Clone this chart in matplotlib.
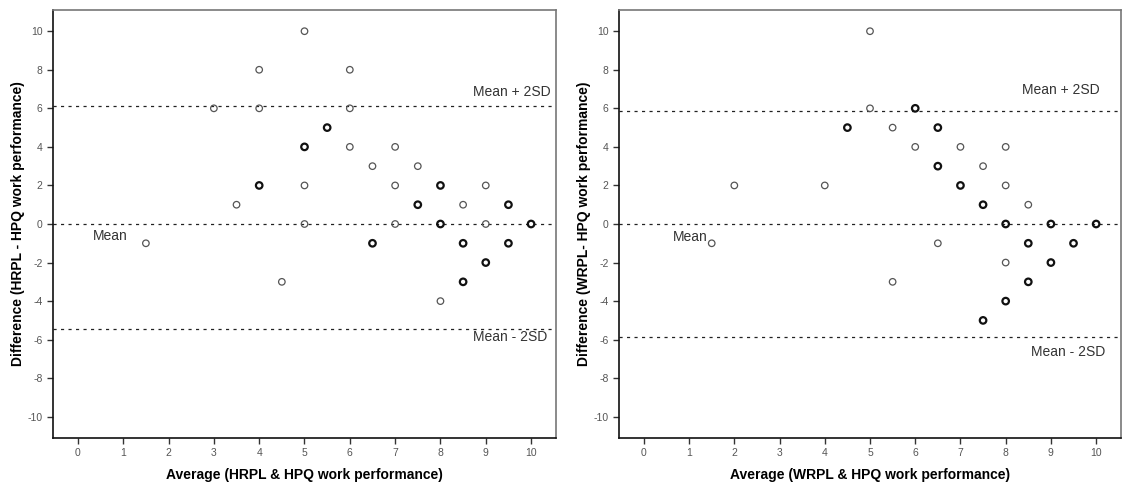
import matplotlib
matplotlib.use("Agg")
import matplotlib.pyplot as plt

plt.rcParams['font.family'] = ['Liberation Sans', 'DejaVu Sans']
plt.rcParams['axes.unicode_minus'] = False

# HRPL vs HPQ (left panel)
hrpl_avg = [1.5, 3, 3.5, 4, 4, 4.5, 5, 5, 5, 6, 6, 6, 6.5, 7, 7, 7, 7.5, 8, 8.5, 9, 9]
hrpl_diff = [-1, 6, 1, 8, 6, -3, 10, 2, 0, 8, 6, 4, 3, 4, 2, 0, 3, -4, 1, 2, 0]
# points that are drawn heavier (overlapping cases)
hrpl_avg_bold = [4, 5, 5.5, 6.5, 7.5, 8, 8, 8.5, 8.5, 9, 9.5, 9.5, 10]
hrpl_diff_bold = [2, 4, 5, -1, 1, 2, 0, -1, -3, -2, 1, -1, 0]
hrpl_mean = 0.0
hrpl_upper = 6.13
hrpl_lower = -5.44

# WRPL vs HPQ (right panel)
wrpl_avg = [1.5, 2, 4, 5, 5, 5.5, 5.5, 6, 6.5, 7, 7.5, 8, 8, 8, 8.5]
wrpl_diff = [-1, 2, 2, 10, 6, 5, -3, 4, -1, 4, 3, 4, 2, -2, 1]
wrpl_avg_bold = [4.5, 6, 6.5, 6.5, 7, 7.5, 7.5, 8, 8, 8.5, 8.5, 9, 9, 9.5, 10]
wrpl_diff_bold = [5, 6, 5, 3, 2, 1, -5, 0, -4, -1, -3, 0, -2, -1, 0]
wrpl_mean = 0.0
wrpl_upper = 5.85
wrpl_lower = -5.84

fig = plt.figure(figsize=(11.24, 4.86), dpi=100)
ax1 = fig.add_axes([53 / 1124, 48 / 486, 503 / 1124, 428 / 486])
ax2 = fig.add_axes([619 / 1124, 48 / 486, 502 / 1124, 428 / 486])


def draw_panel(ax, avg, diff, avg_b, diff_b, mean, upper, lower, xlab, ylab,
               mean_xy, up_xy, low_xy):
    ax.scatter(avg, diff, s=22, facecolors='none', edgecolors='#555555', linewidths=0.9, zorder=3)
    ax.scatter(avg_b, diff_b, s=22, facecolors='none', edgecolors='#111111', linewidths=1.6, zorder=3)
    for v in (mean, upper, lower):
        ax.axhline(v, color='#222222', lw=0.9, ls=(0, (2.5, 3.5)), zorder=1)
    ax.text(mean_xy[0], mean_xy[1], 'Mean', fontsize=10, color='#333333', ha='left', va='center')
    ax.text(up_xy[0], up_xy[1], 'Mean + 2SD', fontsize=10, color='#333333', ha='left', va='center')
    ax.text(low_xy[0], low_xy[1], 'Mean - 2SD', fontsize=10, color='#333333', ha='left', va='center')
    ax.set_xlim(-0.55, 10.55)
    ax.set_ylim(-11.1, 11.1)
    ax.set_xticks(range(0, 11))
    ax.set_yticks(range(-10, 11, 2))
    ax.tick_params(direction='out', length=4, width=1, labelsize=7.5, labelcolor='#555555', color='#333333')
    ax.spines['left'].set_color('#111111')
    ax.spines['bottom'].set_color('#111111')
    ax.spines['top'].set_color('#777777')
    ax.spines['right'].set_color('#777777')
    for s in ax.spines.values():
        s.set_linewidth(1.2)
    ax.set_xlabel(xlab, fontsize=10, fontweight='bold')
    ax.set_ylabel(ylab, fontsize=10, fontweight='bold')
    ax.xaxis.set_label_coords(0.5, -0.086)
    ax.xaxis.label.set_va('center')
    ax.yaxis.set_label_coords(-0.07, 0.5)
    ax.yaxis.label.set_va('center')


draw_panel(ax1, hrpl_avg, hrpl_diff, hrpl_avg_bold, hrpl_diff_bold,
           hrpl_mean, hrpl_upper, hrpl_lower,
           'Average (HRPL & HPQ work performance)',
           'Difference (HRPL - HPQ work performance)',
           (0.32, -0.6), (8.72, 6.85), (8.72, -5.84))
draw_panel(ax2, wrpl_avg, wrpl_diff, wrpl_avg_bold, wrpl_diff_bold,
           wrpl_mean, wrpl_upper, wrpl_lower,
           'Average (WRPL & HPQ work performance)',
           'Difference (WRPL- HPQ work performance)',
           (0.65, -0.65), (8.35, 6.94), (8.56, -6.62))

fig.savefig('out.png', dpi=100)
